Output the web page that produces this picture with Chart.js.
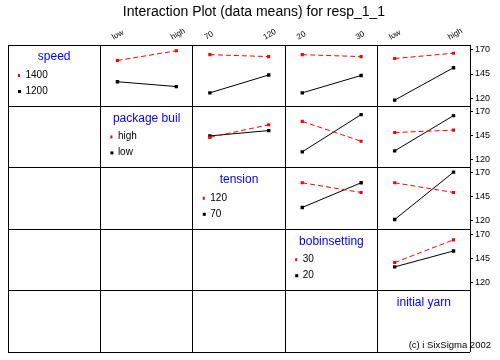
<!DOCTYPE html>
<html>
<head>
<meta charset="utf-8">
<script src="https://cdn.jsdelivr.net/npm/chart.js@4"></script>
<style>
html, body { margin:0; padding:0; background:#ffffff; }
#wrap { width:500px; height:360px; }
</style>
</head>
<body>
<div id="wrap"><canvas id="graph0"></canvas></div>
<script>
// factors, same order for rows and columns
var factor_names = ["speed", "package buil", "tension", "bobinsetting", "initial yarn"];
var level_low    = ["1200", "low", "70", "20", "low"];
var level_high   = ["1400", "high", "120", "30", "high"];

var y_ticks      = [120, 145, 170];

// means of each row factor level, for every column factor to its right: [at low, at high]
var speed_1400   = [[159, 169], [165, 163], [165, 163], [161, 166.5]];
var speed_1200   = [[137, 132], [125.5, 144], [125.5, 143.5], [118, 151.5]];
var package_high = [[143, 156], [159.5, 139], [148, 150.5]];
var package_low  = [[144.5, 150], [128, 166.5], [129, 165.5]];
var tension_120  = [[159.5, 149.5], [159.5, 149.5]];
var tension_70   = [[134, 159.5], [121.5, 170.5]];
var bobbin_30    = [[140.5, 164]];
var bobbin_20    = [[136, 152.5]];

var high_means   = [speed_1400, package_high, tension_120, bobbin_30];
var low_means    = [speed_1200, package_low, tension_70, bobbin_20];

var FONT = "'Liberation Sans', Arial, sans-serif";
var CHART0 = null;

window.addEventListener("load", function(){
    Chart.defaults.font.family = FONT;
    draw_matrix();
});

function to_points(pair){
    return [{x:0, y:pair[0]}, {x:1, y:pair[1]}];
}

function draw_matrix(){

    let datasets = [];
    for (let r=0;r<4;r++){
        for (let k=0;k<high_means[r].length;k++){
            let c = r + 1 + k;
            datasets.push({
                data: to_points(high_means[r][k]),
                xAxisID: "x" + (c+1),
                yAxisID: "y" + (r+1),
                borderColor: "#ff0000",
                borderWidth: 1,
                borderDash: [5, 3],
                pointStyle: "rect",
                pointRadius: 2.2,
                pointBackgroundColor: "#ff0000",
                pointBorderWidth: 0,
            });
            datasets.push({
                data: to_points(low_means[r][k]),
                xAxisID: "x" + (c+1),
                yAxisID: "y" + (r+1),
                borderColor: "#000000",
                borderWidth: 1,
                pointStyle: "rect",
                pointRadius: 2.4,
                pointBackgroundColor: "#000000",
                pointBorderWidth: 0,
            });
        }
    }

    let scales = {};
    for (let i=0;i<5;i++){
        scales["x" + (i+1)] = {
            type: "linear",
            position: "top",
            stack: "cols",
            stackWeight: 1,
            weight: 5 - i,
            min: -0.29,
            max: 1.28,
            afterBuildTicks: function(s){ s.ticks = [{value:0}, {value:1}]; },
            afterFit: function(s){ s.height = 24.2; },
            ticks: {
                display: i > 0,
                autoSkip: false,
                minRotation: 30,
                maxRotation: 30,
                padding: -5,
                color: "#000",
                font: {size: 8},
                callback: function(v){ return v === 0 ? level_low[i] : level_high[i]; }
            },
            grid: {display: false},
            border: {display: false}
        };
        scales["y" + (i+1)] = {
            type: "linear",
            position: "right",
            stack: "rows",
            stackWeight: 1,
            weight: i + 1,
            min: 111.5,
            max: 175,
            afterBuildTicks: function(s){ s.ticks = y_ticks.map(function(v){ return {value:v}; }); },
            afterFit: function(s){ s.width = 30; },
            ticks: {display: i < 4, padding: 2, color: "#000", font: {size: 9}},
            grid: {display: i < 4, drawOnChartArea: false, drawTicks: true, tickLength: 3, color: "#000"},
            border: {display: false}
        };
    }
    // panel frame lines
    scales.gx = {
        type: "linear", position: "bottom", min: 0, max: 5,
        ticks: {display: false, stepSize: 1},
        grid: {color: "#000", lineWidth: 1, drawTicks: false},
        border: {display: false}
    };
    scales.gy = {
        type: "linear", position: "left", min: 0, max: 5,
        ticks: {display: false, stepSize: 1},
        grid: {color: "#000", lineWidth: 1, drawTicks: false},
        border: {display: false}
    };

    let diag_plugin = {
        id: "diag_text",
        afterDraw: function(chart){
            let ctx = chart.ctx;
            ctx.save();
            ctx.textBaseline = "middle";
            for (let i=0;i<5;i++){
                let xs = chart.scales["x" + (i+1)];
                let ys = chart.scales["y" + (i+1)];
                ctx.fillStyle = "#0000ff";
                ctx.font = "12px " + FONT;
                ctx.textAlign = "center";
                ctx.fillText(factor_names[i], (xs.left + xs.right) / 2, ys.top + 12);
                if (i < 4){
                    ctx.font = "10px " + FONT;
                    ctx.textAlign = "left";
                    ctx.fillStyle = "#ff0000";
                    ctx.fillRect(xs.left + 10, ys.top + 29, 2, 3);
                    ctx.fillStyle = "#000";
                    ctx.fillText(level_high[i], xs.left + 17.5, ys.top + 30);
                    ctx.fillRect(xs.left + 10, ys.top + 45, 3, 3);
                    ctx.fillText(level_low[i], xs.left + 17.5, ys.top + 46);
                }
            }
            ctx.font = "9.5px " + FONT;
            ctx.textAlign = "right";
            ctx.fillStyle = "#000";
            ctx.fillText("(c) i SixSigma 2002", 491, chart.chartArea.bottom - 7);
            ctx.restore();
        }
    };

    if (CHART0) {
        CHART0.destroy();
    }
    CHART0 = new Chart(document.getElementById("graph0"), {
        type: "line",
        data: {datasets: datasets},
        options: {
            responsive: true,
            maintainAspectRatio: false,
            animation: false,
            layout: {autoPadding: false, padding: {top: 0, left: 8, right: 0, bottom: 8}},
            scales: scales,
            plugins: {
                legend: {display: false},
                tooltip: {enabled: false},
                title: {
                    display: true,
                    text: "Interaction Plot (data means) for resp_1_1",
                    color: "#000",
                    font: {size: 14, weight: "normal"},
                    padding: {top: 4, bottom: 0}
                }
            }
        },
        plugins: [diag_plugin]
    });
}
</script>
</body>
</html>
